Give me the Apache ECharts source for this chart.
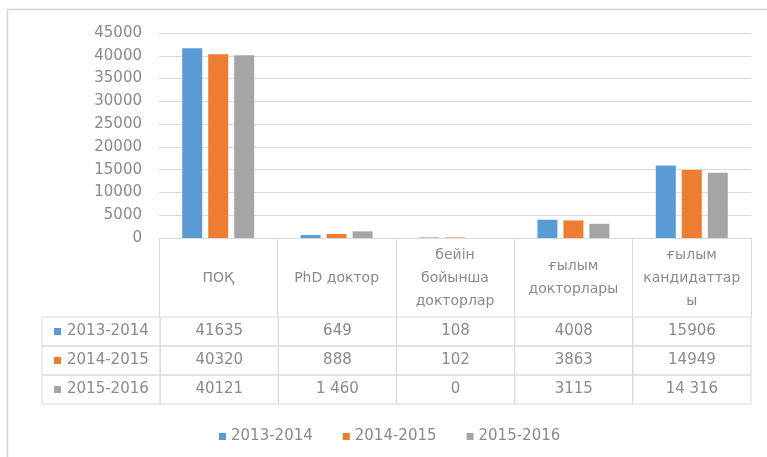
<!DOCTYPE html>
<html>
<head>
<meta charset="utf-8">
<script src="https://cdn.jsdelivr.net/npm/echarts@6/dist/echarts.min.js"></script>
<style>
  html, body { margin: 0; padding: 0; background: #fff; }
  #chart { width: 767px; height: 457px; }
</style>
</head>
<body>
<div id="chart"></div>
<script>
// категориялар (кесте тақырыбы)
const categories = ["ПОҚ", "PhD доктор", "бейін\nбойынша\nдокторлар", "ғылым\nдокторлары", "ғылым\nкандидаттар\nы"];
const seriesNames = ["2013-2014", "2014-2015", "2015-2016"];
const values2013 = [41635, 649, 108, 4008, 15906];
const values2014 = [40320, 888, 102, 3863, 14949];
const values2015 = [40121, 1460, 0, 3115, 14316];
// кестеде көрсетілгендей жазылған мәндер
const shown2015 = ["40121", "1 460", "0", "3115", "14 316"];
const yTicks = [0, 5000, 10000, 15000, 20000, 25000, 30000, 35000, 40000, 45000];

const colors = ["#5b9bd5", "#ed7d31", "#a5a5a5"];
const textColor = "#8a8a8a";
const lineColor = "#d9d9d9";
const font = "DejaVu Sans";

const allValues = [values2013, values2014, values2015];
const tableText = [
  values2013.map(String),
  values2014.map(String),
  shown2015,
];

// кесте ұяшықтары: [баған, жол]
const cells = [];
seriesNames.forEach((name, r) => {
  cells.push([0, r]);
  categories.forEach((c, k) => cells.push([k + 1, r]));
});

var myChart = echarts.init(document.getElementById("chart"));

var option = {
  animation: false,
  color: colors,
  textStyle: { fontFamily: font },
  graphic: [
    {
      type: "rect",
      shape: { x: 7.5, y: 9.5, width: 800, height: 500 },
      style: { fill: "none", stroke: "#d4d4d4", lineWidth: 1.5 },
      silent: true,
    },
  ],
  legend: {
    data: seriesNames,
    left: 214,
    top: 424,
    icon: "rect",
    itemWidth: 7,
    itemHeight: 7,
    itemGap: 30,
    textStyle: { color: textColor, fontSize: 15, fontFamily: font },
  },
  grid: [
    { left: 159, right: 16, top: 33, height: 205 },
    { left: 42, right: 16, top: 317, height: 87 },
  ],
  xAxis: [
    {
      type: "category",
      gridIndex: 0,
      data: categories,
      axisLine: { lineStyle: { color: lineColor } },
      axisTick: { show: true, length: 79, interval: 0, lineStyle: { color: lineColor } },
      axisLabel: {
        interval: 0,
        margin: 40,
        verticalAlign: "middle",
        color: textColor,
        fontSize: 14,
        lineHeight: 23,
        fontFamily: font,
      },
    },
    {
      type: "category",
      gridIndex: 1,
      data: ["", ...categories],
      show: false,
    },
  ],
  yAxis: [
    {
      type: "value",
      gridIndex: 0,
      min: 0,
      max: 45000,
      interval: 5000,
      axisLine: { show: false },
      axisTick: { show: false },
      splitLine: { lineStyle: { color: lineColor } },
      axisLabel: {
        margin: 17,
        color: textColor,
        fontSize: 15,
        fontFamily: font,
        formatter: (v) => (yTicks.includes(v) ? String(v) : ""),
      },
    },
    {
      type: "category",
      gridIndex: 1,
      data: seriesNames,
      inverse: true,
      show: false,
    },
  ],
  series: [
    ...seriesNames.map((name, i) => ({
      name: name,
      type: "bar",
      xAxisIndex: 0,
      yAxisIndex: 0,
      barWidth: 20,
      barGap: "30%",
      data: allValues[i],
    })),
    {
      type: "custom",
      xAxisIndex: 1,
      yAxisIndex: 1,
      silent: true,
      data: cells,
      renderItem: function (params, api) {
        const cell = cells[params.dataIndex];
        const col = cell[0], row = cell[1];
        const c = api.coord([col, row]);
        const s = api.size([1, 1]);
        const x0 = c[0] - s[0] / 2, y0 = c[1] - s[1] / 2;
        const children = [
          {
            type: "rect",
            shape: { x: x0, y: y0, width: s[0], height: s[1] },
            style: { fill: "none", stroke: lineColor, lineWidth: 1 },
          },
        ];
        if (col === 0) {
          children.push({
            type: "rect",
            shape: { x: x0 + 12, y: c[1] - 3.5, width: 7, height: 7 },
            style: { fill: colors[row] },
          });
          children.push({
            type: "text",
            style: {
              x: x0 + 25, y: c[1], text: seriesNames[row],
              align: "left", verticalAlign: "middle",
              fill: textColor, fontSize: 15, fontFamily: font,
            },
          });
        } else {
          children.push({
            type: "text",
            style: {
              x: c[0], y: c[1], text: tableText[row][col - 1],
              align: "center", verticalAlign: "middle",
              fill: textColor, fontSize: 15, fontFamily: font,
            },
          });
        }
        return { type: "group", children: children };
      },
    },
  ],
};

myChart.setOption(option);
</script>
</body>
</html>
